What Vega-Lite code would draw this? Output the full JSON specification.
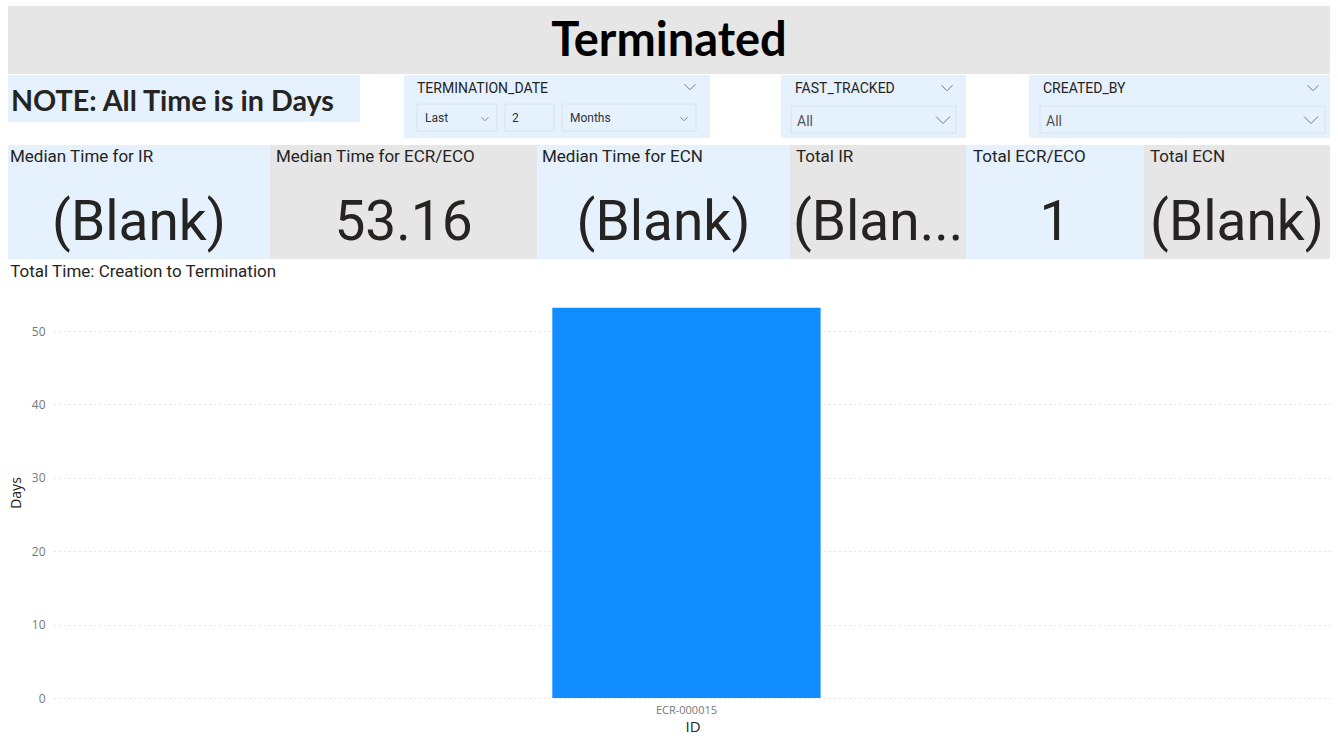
{
  "$schema": "https://vega.github.io/schema/vega-lite/v6.json",
  "background": "#ffffff",
  "padding": {"left": 8, "top": 6, "right": 8, "bottom": 2},
  "config": {
    "view": {"stroke": null},
    "font": "Roboto",
    "text": {"color": "#252423"},
    "axis": {
      "labelFont": "Open Sans",
      "titleFont": "Open Sans",
      "labelColor": "#777777",
      "titleColor": "#252423",
      "titleFontWeight": "normal",
      "domain": false,
      "ticks": false
    }
  },
  "spacing": 1,
  "vconcat": [
    {
      "width": 1322,
      "height": 68,
      "view": {"fill": "#e6e6e6"},
      "data": {"values": [{"heading": "Terminated"}]},
      "mark": {"type": "text", "font": "Lato", "fontWeight": "bold", "fontSize": 47, "color": "#000000", "baseline": "alphabetic", "y": 50},
      "encoding": {"text": {"field": "heading"}}
    },
    {
      "spacing": 7,
      "vconcat": [
        {
          "spacing": 44,
          "hconcat": [
            {
              "width": 352,
              "height": 47,
              "view": {"fill": "#e5f1fc"},
              "data": {"values": [{"note": "NOTE: All Time is in Days"}]},
              "mark": {"type": "text", "font": "Lato", "fontWeight": "bold", "fontSize": 28.7, "color": "#252423", "align": "left", "baseline": "alphabetic", "x": 3, "y": 36},
              "encoding": {"text": {"field": "note"}}
            },
            {
              "spacing": 71,
              "hconcat": [
                {
                  "width": 306,
                  "height": 63,
                  "view": {"fill": "#e5f1fc"},
                  "data": {"values": [{"field": "TERMINATION_DATE", "mode": "Last", "count": "2", "unit": "Months"}]},
                  "layer": [
                    {"mark": {"type": "rect", "x": 13, "x2": 93, "y": 29, "y2": 56, "fill": "#e5f1fc", "stroke": "#d9e2ec", "strokeWidth": 1}},
                    {"mark": {"type": "rect", "x": 101, "x2": 150, "y": 29, "y2": 56, "fill": "#e5f1fc", "stroke": "#d9e2ec", "strokeWidth": 1}},
                    {"mark": {"type": "rect", "x": 158, "x2": 292, "y": 29, "y2": 56, "fill": "#e5f1fc", "stroke": "#d9e2ec", "strokeWidth": 1}},
                    {"mark": {"type": "text", "align": "left", "baseline": "alphabetic", "x": 13, "y": 18, "fontSize": 14, "color": "#252423"}, "encoding": {"text": {"field": "field"}}},
                    {"mark": {"type": "text", "align": "left", "baseline": "alphabetic", "x": 21, "y": 47, "fontSize": 12, "color": "#333333"}, "encoding": {"text": {"field": "mode"}}},
                    {"mark": {"type": "text", "align": "left", "baseline": "alphabetic", "x": 108, "y": 47, "fontSize": 12, "color": "#333333"}, "encoding": {"text": {"field": "count"}}},
                    {"mark": {"type": "text", "align": "left", "baseline": "alphabetic", "x": 166, "y": 47, "fontSize": 12, "color": "#333333"}, "encoding": {"text": {"field": "unit"}}},
                    {"mark": {"type": "point", "shape": "M-1,-0.5L0,0.5L1,-0.5", "filled": false, "stroke": "#777777", "strokeWidth": 1, "size": 121, "x": 286, "y": 12, "opacity": 1}},
                    {"mark": {"type": "point", "shape": "M-1,-0.5L0,0.5L1,-0.5", "filled": false, "stroke": "#888888", "strokeWidth": 1, "size": 49, "x": 81, "y": 44, "opacity": 1}},
                    {"mark": {"type": "point", "shape": "M-1,-0.5L0,0.5L1,-0.5", "filled": false, "stroke": "#888888", "strokeWidth": 1, "size": 49, "x": 280, "y": 44, "opacity": 1}}
                  ]
                },
                {
                  "spacing": 63,
                  "hconcat": [
                    {
                      "width": 185,
                      "height": 63,
                      "view": {"fill": "#e5f1fc"},
                      "data": {"values": [{"field": "FAST_TRACKED", "selection": "All"}]},
                      "layer": [
                        {"mark": {"type": "rect", "x": 10, "x2": 175, "y": 31, "y2": 58, "fill": "#e5f1fc", "stroke": "#d9e2ec", "strokeWidth": 1}},
                        {"mark": {"type": "text", "align": "left", "baseline": "alphabetic", "x": 14, "y": 18, "fontSize": 14, "color": "#252423"}, "encoding": {"text": {"field": "field"}}},
                        {"mark": {"type": "text", "align": "left", "baseline": "alphabetic", "x": 16, "y": 51, "fontSize": 14, "color": "#555555"}, "encoding": {"text": {"field": "selection"}}},
                        {"mark": {"type": "point", "shape": "M-1,-0.5L0,0.5L1,-0.5", "filled": false, "stroke": "#777777", "strokeWidth": 1, "size": 121, "x": 166, "y": 13, "opacity": 1}},
                        {"mark": {"type": "point", "shape": "M-1,-0.5L0,0.5L1,-0.5", "filled": false, "stroke": "#777777", "strokeWidth": 1, "size": 196, "x": 162, "y": 45, "opacity": 1}}
                      ]
                    },
                    {
                      "width": 301,
                      "height": 63,
                      "view": {"fill": "#e5f1fc"},
                      "data": {"values": [{"field": "CREATED_BY", "selection": "All"}]},
                      "layer": [
                        {"mark": {"type": "rect", "x": 11, "x2": 296, "y": 31, "y2": 58, "fill": "#e5f1fc", "stroke": "#d9e2ec", "strokeWidth": 1}},
                        {"mark": {"type": "text", "align": "left", "baseline": "alphabetic", "x": 14, "y": 18, "fontSize": 14, "color": "#252423"}, "encoding": {"text": {"field": "field"}}},
                        {"mark": {"type": "text", "align": "left", "baseline": "alphabetic", "x": 17, "y": 51, "fontSize": 14, "color": "#555555"}, "encoding": {"text": {"field": "selection"}}},
                        {"mark": {"type": "point", "shape": "M-1,-0.5L0,0.5L1,-0.5", "filled": false, "stroke": "#777777", "strokeWidth": 1, "size": 121, "x": 284, "y": 13, "opacity": 1}},
                        {"mark": {"type": "point", "shape": "M-1,-0.5L0,0.5L1,-0.5", "filled": false, "stroke": "#777777", "strokeWidth": 1, "size": 196, "x": 282, "y": 45, "opacity": 1}}
                      ]
                    }
                  ]
                }
              ]
            }
          ]
        },
        {
          "spacing": 4,
          "vconcat": [
            {
              "spacing": 0,
              "hconcat": [
                {
                  "width": 262, "height": 114, "view": {"fill": "#e5f1fc"},
                  "data": {"values": [{"measure": "Median Time for IR", "value": "(Blank)"}]},
                  "layer": [
                    {"mark": {"type": "text", "align": "left", "baseline": "middle", "x": 2, "y": 12, "fontSize": 17, "color": "#252423"}, "encoding": {"text": {"field": "measure"}}},
                    {"mark": {"type": "text", "baseline": "alphabetic", "y": 95, "fontSize": 55, "color": "#252423"}, "encoding": {"text": {"field": "value"}}}
                  ]
                },
                {
                  "width": 267, "height": 114, "view": {"fill": "#e6e6e6"},
                  "data": {"values": [{"measure": "Median Time for ECR/ECO", "value": "53.16"}]},
                  "layer": [
                    {"mark": {"type": "text", "align": "left", "baseline": "middle", "x": 6, "y": 12, "fontSize": 17, "color": "#252423"}, "encoding": {"text": {"field": "measure"}}},
                    {"mark": {"type": "text", "baseline": "alphabetic", "y": 95, "fontSize": 55, "color": "#252423"}, "encoding": {"text": {"field": "value"}}}
                  ]
                },
                {
                  "width": 253, "height": 114, "view": {"fill": "#e5f1fc"},
                  "data": {"values": [{"measure": "Median Time for ECN", "value": "(Blank)"}]},
                  "layer": [
                    {"mark": {"type": "text", "align": "left", "baseline": "middle", "x": 5, "y": 12, "fontSize": 17, "color": "#252423"}, "encoding": {"text": {"field": "measure"}}},
                    {"mark": {"type": "text", "baseline": "alphabetic", "y": 95, "fontSize": 55, "color": "#252423"}, "encoding": {"text": {"field": "value"}}}
                  ]
                },
                {
                  "width": 176, "height": 114, "view": {"fill": "#e6e6e6"},
                  "data": {"values": [{"measure": "Total IR", "value": "(Blan..."}]},
                  "layer": [
                    {"mark": {"type": "text", "align": "left", "baseline": "middle", "x": 6, "y": 12, "fontSize": 17, "color": "#252423"}, "encoding": {"text": {"field": "measure"}}},
                    {"mark": {"type": "text", "baseline": "alphabetic", "y": 95, "fontSize": 55, "color": "#252423"}, "encoding": {"text": {"field": "value"}}}
                  ]
                },
                {
                  "width": 178, "height": 114, "view": {"fill": "#e5f1fc"},
                  "data": {"values": [{"measure": "Total ECR/ECO", "value": "1"}]},
                  "layer": [
                    {"mark": {"type": "text", "align": "left", "baseline": "middle", "x": 7, "y": 12, "fontSize": 17, "color": "#252423"}, "encoding": {"text": {"field": "measure"}}},
                    {"mark": {"type": "text", "baseline": "alphabetic", "y": 95, "fontSize": 55, "color": "#252423"}, "encoding": {"text": {"field": "value"}}}
                  ]
                },
                {
                  "width": 186, "height": 114, "view": {"fill": "#e6e6e6"},
                  "data": {"values": [{"measure": "Total ECN", "value": "(Blank)"}]},
                  "layer": [
                    {"mark": {"type": "text", "align": "left", "baseline": "middle", "x": 6, "y": 12, "fontSize": 17, "color": "#252423"}, "encoding": {"text": {"field": "measure"}}},
                    {"mark": {"type": "text", "baseline": "alphabetic", "y": 95, "fontSize": 55, "color": "#252423"}, "encoding": {"text": {"field": "value"}}}
                  ]
                }
              ]
            },
            {
              "spacing": 0,
              "hconcat": [
                {
                  "width": 1,
                  "height": 1,
                  "data": {"values": []},
                  "mark": {"type": "text"},
                  "encoding": {}
                },
                {
                  "width": 1277,
                  "height": 411,
                  "title": {"text": "Total Time: Creation to Termination", "anchor": "start", "fontSize": 17, "font": "Roboto", "fontWeight": "normal", "color": "#252423", "offset": 6, "dx": 1},
                  "data": {"values": [{"ID": "ECR-000015", "Days": 53.16}]},
                  "mark": {"type": "bar", "color": "#118dff"},
                  "encoding": {
                    "x": {
                      "field": "ID", "type": "nominal",
                      "scale": {"paddingInner": 0.468, "paddingOuter": 1, "align": 0.494},
                      "axis": {"title": "ID", "labelAngle": 0, "labelFontSize": 11, "labelPadding": 6, "titleFontSize": 15, "titlePadding": 4}
                    },
                    "y": {
                      "field": "Days", "type": "quantitative",
                      "scale": {"domain": [0, 56], "nice": false},
                      "axis": {"title": "Days", "values": [0, 10, 20, 30, 40, 50], "grid": true, "gridDash": [1, 4], "gridColor": "#c8c8c8", "labelFontSize": 12, "labelPadding": 9, "titleFontSize": 14, "titlePadding": 8}
                    }
                  }
                }
              ]
            }
          ]
        }
      ]
    }
  ]
}
